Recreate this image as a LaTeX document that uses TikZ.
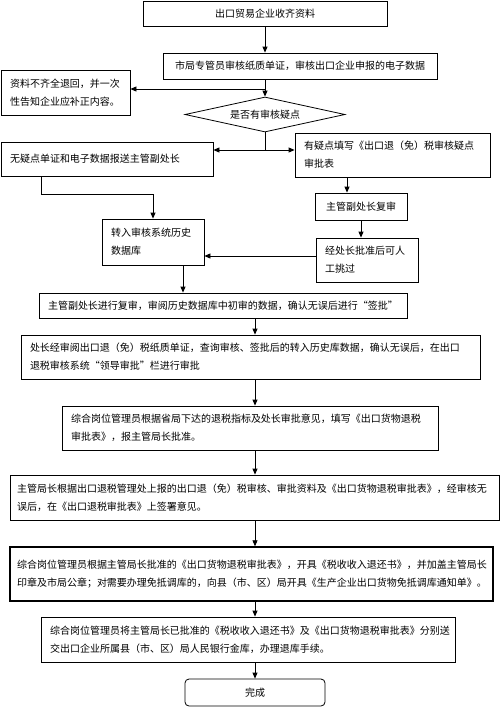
\documentclass[tikz,border=0pt]{standalone}
\usepackage{fontspec}
\newfontfamily\cjk{Noto Sans CJK SC}
\usetikzlibrary{shapes.geometric, arrows.meta, positioning, calc}

\begin{document}
\begin{tikzpicture}[x=1pt, y=-1pt,
      box/.style={draw, line width=0.8pt, inner xsep=9pt, inner ysep=2pt,
                   align=left, font=\cjk\fontsize{10}{18}\selectfont},
      cbox/.style={box, align=center},
      decide/.style={draw, line width=0.8pt, diamond, aspect=4.6, inner sep=0pt,
                   minimum width=160pt, minimum height=35pt,
                   font=\cjk\fontsize{10}{18}\selectfont},
      arr/.style={-{Triangle[length=6pt, width=5pt]}, line width=0.8pt}
    ]
      \useasboundingbox (0,0) rectangle (500,707);

      % top part
      \node[cbox, minimum width=244pt, minimum height=25pt] (collect) at (265,13.5) {出口贸易企业收齐资料};
      \node[cbox, minimum width=274pt, minimum height=26pt] (check) at (300,66) {市局专管员审核纸质单证，审核出口企业申报的电子数据};
      \node[box, text width=111pt, minimum height=45pt] (return) at (65.5,92.5) {资料不齐全退回，并一次\\性告知企业应补正内容。};
      \node[decide] (doubt) at (265,114.5) {是否有审核疑点};

      \draw[arr] (collect.south) -- (collect.south |- check.north);
      \draw[arr] (doubt.north |- check.south) -- (doubt.north);
      \coordinate (split) at (265,89);
      \draw[arr] (split) -- (split -| return.east);

      % two branches
      \node[box, text width=194pt, minimum height=34pt] (noissue) at (107,159) {无疑点单证和电子数据报送主管副处长\\[6pt]};
      \node[box, text width=177pt, minimum height=44pt] (issue) at (392.5,155) {有疑点填写《出口退（免）税审核疑点\\审批表};
      \coordinate (fork) at (265,150);
      \draw[line width=0.8pt] (doubt.south) -- (fork);
      \draw[arr] (fork) -- (fork -| noissue.east);
      \draw[arr] (fork) -- (fork -| issue.west);

      \node[box, text width=84pt, minimum height=46pt] (history) at (153,242) {转入审核系统历史\\数据库};
      \node[cbox, minimum width=92pt, minimum height=27pt] (recheck) at (361,206.5) {主管副处长复审};
      \node[box, text width=84pt, minimum height=44pt] (skip) at (367,260) {经处长批准后可人\\工挑过};

      \draw[arr] ([xshift=-66pt]noissue.south) -- ++(0,18) -| (history.north);
      \draw[arr] ([xshift=-14pt]recheck.north |- issue.south) -- ([xshift=-14pt]recheck.north);
      \draw[arr] (recheck.south) -- (recheck.south |- skip.north);
      \draw[arr] ([yshift=4pt]skip.west) -- ([yshift=4pt]skip.west -| history.east);

      % main column
      \coordinate (spine) at (255,0);
      \node[cbox, minimum width=364pt, minimum height=25pt] (sign) at (223,305.5) {主管副处长进行复审，审阅历史数据库中初审的数据，确认无误后进行“签批”};
      \node[box, text width=441pt, minimum height=44pt] (director) at (250.5,357) {处长经审阅出口退（免）税纸质单证，查询审核、签批后的转入历史库数据，确认无误后，在出口\\退税审核系统“领导审批”栏进行审批};
      \node[box, text width=358pt, minimum height=44pt] (fill) at (250,428) {综合岗位管理员根据省局下达的退税指标及处长审批意见，填写《出口货物退税\\审批表》，报主管局长批准。};
      \node[box, inner xsep=7pt, text width=475pt, minimum height=45pt] (chief) at (254.5,497.5) {主管局长根据出口退税管理处上报的出口退（免）税审核、审批资料及《出口货物退税审批表》，经审核无\\误后，在《出口退税审批表》上签署意见。};
      \node[box, line width=1.4pt, inner xsep=7pt, text width=469pt, minimum height=54pt] (refund) at (251.5,574) {综合岗位管理员根据主管局长批准的《出口货物退税审批表》，开具《税收收入退还书》，并加盖主管局长\\印章及市局公章；对需要办理免抵调库的，向县（市、区）局开具《生产企业出口货物免抵调库通知单》。\\[4pt]};
      \node[box, text width=396pt, minimum height=45pt] (bank) at (248,639.5) {综合岗位管理员将主管局长已批准的《税收收入退还书》及《出口货物退税审批表》分别送\\交出口企业所属县（市、区）局人民银行金库，办理退库手续。};
      \node[cbox, rounded corners=4pt, minimum width=140pt, minimum height=27pt] (done) at (255,692.5) {完成};

      \draw[arr] ([xshift=30pt]history.south) -- ([xshift=30pt]history.south |- sign.north);
      \draw[arr] (spine |- sign.south) -- (spine |- director.north);
      \draw[arr] (spine |- director.south) -- (spine |- fill.north);
      \draw[arr] (spine |- fill.south) -- (spine |- chief.north);
      \draw[arr] (spine |- chief.south) -- (spine |- refund.north);
      \draw[arr] (spine |- refund.south) -- (spine |- bank.north);
      \draw[arr] (spine |- bank.south) -- (spine |- done.north);
    \end{tikzpicture}
\end{document}
